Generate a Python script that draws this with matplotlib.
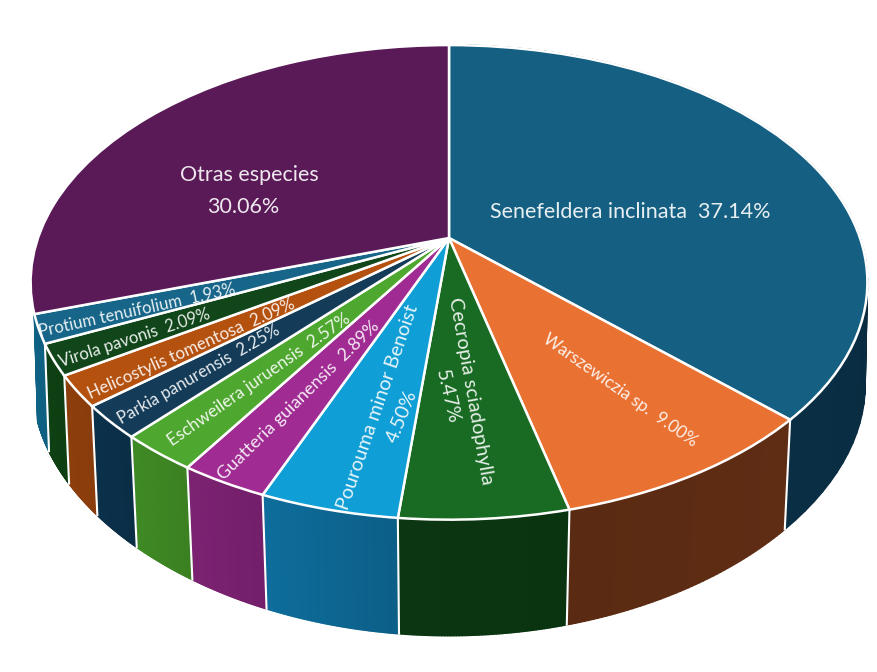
import numpy as np
import matplotlib
matplotlib.use("Agg")
import matplotlib.pyplot as plt
from matplotlib.collections import PolyCollection
from matplotlib.colors import to_rgb
from matplotlib.transforms import Transform

plt.rcParams['font.family'] = ['Lato', 'DejaVu Sans']

especies = ["Senefeldera inclinata", "Warszewiczia sp.", "Cecropia sciadophylla",
            "Pourouma minor Benoist", "Guatteria guianensis", "Eschweilera juruensis",
            "Parkia panurensis", "Helicostylis tomentosa", "Virola pavonis",
            "Protium tenuifolium", "Otras especies"]
valores = [37.14, 9.00, 5.47, 4.50, 2.89, 2.57, 2.25, 2.09, 2.09, 1.93, 30.06]

colores = ["#156082", "#E97132", "#196B24", "#0F9ED5", "#A02B93", "#4EA72E",
           "#143C58", "#B5510F", "#10461A", "#17668A", "#5A1A57"]
# (inicio, fin) del degradado lateral de cada porcion
lados = [("#04202F", "#0A2F45"), ("#5F2D14", "#5A2A12"), ("#0A3410", "#0B3611"),
         ("#0C5F87", "#0E6D9C"), ("#731F6A", "#7C2272"), ("#3B8022", "#3F8A25"),
         ("#0B2E47", "#0B3049"), ("#8A3D0C", "#8C3E0C"), ("#0E3F12", "#0E4013"),
         ("#0F5F80", "#0F6284"), None]

# posicion, giro y cuerpo de cada rotulo: x, y, grados
pos_nombre = [(630, 212, 0), (620, 390, -35), (471, 391, -80), (378, 407, 71),
              (299, 400, 44.5), (259, 380, 35), (199, 375, 29.7), (191, 349, 24),
              (135, 338, 18), (137, 311, 12.4), (249, 175, 0)]
tamanos = [15.5, 12.3, 14.3, 14.2, 12.9, 12.4, 12.1, 12.2, 12, 12, 15.5]
# los que llevan el porcentaje en otra linea
pos_pct = {2: (447, 397, -77), 3: (402, 416, 68), 10: (243, 207, 0)}


def arriba(X, Y):
    return 449 + 411 * X / (1 + 0.187 * Y), 238 - 229 * Y / (1 + 0.187 * Y)


def abajo(X, Y):
    return 449 + 410 * X / (1 + 0.17 * Y), 346 - 223 * Y / (1 + 0.23 * Y)


class Perspectiva(Transform):
    input_dims = 2
    output_dims = 2

    def transform_non_affine(self, values):
        values = np.asarray(values)
        x, y = arriba(values[:, 0], values[:, 1])
        return np.column_stack([x, y])


fig = plt.figure(figsize=(8.78, 6.72), dpi=100)
ax = fig.add_axes([0, 0, 1, 1])

# cara superior
ax.pie(valores, colors=colores, startangle=90, counterclock=False, labeldistance=None,
       wedgeprops={'transform': Perspectiva() + ax.transData, 'edgecolor': 'white',
                   'linewidth': 1.8, 'zorder': 3})
ax.set_aspect('auto')
ax.set_xlim(0, 878)
ax.set_ylim(672, 0)
ax.axis('off')

cortes = np.concatenate([[0], np.cumsum(valores)]) / sum(valores) * 2 * np.pi

# cara lateral, a tiras finas para que el contorno salga bien
for i in range(len(valores)):
    if lados[i] is None:
        continue
    t = np.linspace(cortes[i], cortes[i + 1], 60)
    X, Y = np.sin(t), np.cos(t)
    xa, ya = arriba(X, Y)
    xb, yb = abajo(X, Y)
    tiras = []
    tonos = []
    c0 = np.array(to_rgb(lados[i][0]))
    c1 = np.array(to_rgb(lados[i][1]))
    for j in range(len(t) - 1):
        tiras.append([(xa[j], ya[j]), (xa[j + 1], ya[j + 1]), (xb[j + 1], yb[j + 1]), (xb[j], yb[j])])
        tonos.append(c0 + (c1 - c0) * j / (len(t) - 2))
    ax.add_collection(PolyCollection(tiras, facecolors=tonos, edgecolors=tonos, linewidths=1.2, zorder=1))

# separadores blancos entre lados
for t in cortes[1:10]:
    xa, ya = arriba(np.sin(t), np.cos(t))
    xb, yb = abajo(np.sin(t), np.cos(t))
    ax.plot([xa, xb], [ya, yb], color='white', lw=1.5, zorder=2)

for i, nombre in enumerate(especies):
    x, y, giro = pos_nombre[i]
    pct = f"{valores[i]:.2f}%"
    texto = nombre if i in pos_pct else f"{nombre}  {pct}"
    ax.text(x, y, texto, color='white', fontsize=tamanos[i], rotation=giro, ha='center', va='center',
            rotation_mode='anchor', alpha=0.9, zorder=4)
    if i in pos_pct:
        x, y, giro = pos_pct[i]
        ax.text(x, y, pct, color='white', fontsize=tamanos[i], rotation=giro, ha='center', va='center',
                rotation_mode='anchor', alpha=0.9, zorder=4)

fig.savefig("out.png", dpi=100)
